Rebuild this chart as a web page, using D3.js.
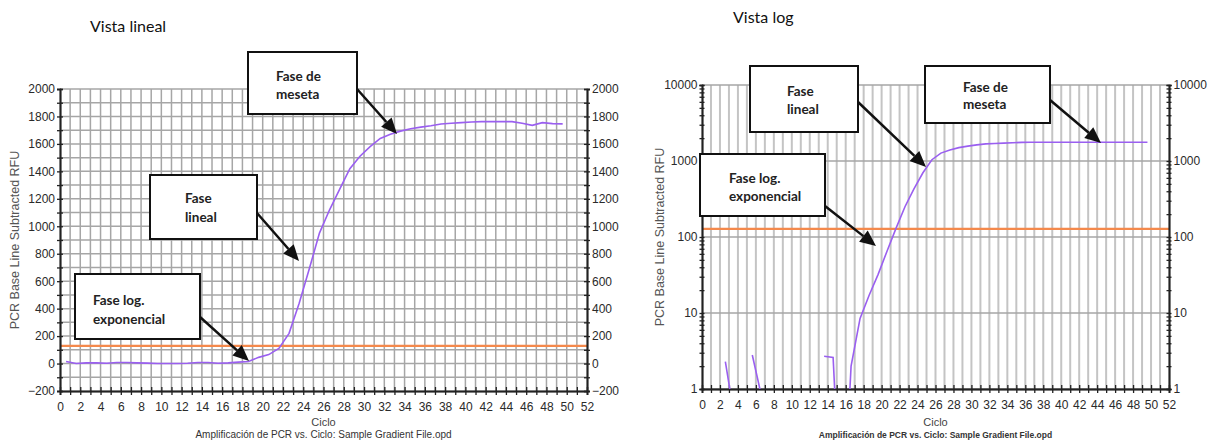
<!DOCTYPE html>
<html>
<head>
<meta charset="utf-8">
<script src="https://cdn.jsdelivr.net/npm/d3@7"></script>
<style>
body { margin: 0; background: #fff; }
text { font-family: "Liberation Sans", Arial, sans-serif; }
</style>
</head>
<body>
<script>
// cycle positions of the readings
var cycles = [0.6, 1.6, 2.6, 3.6, 4.6, 5.6, 6.6, 7.6, 8.6, 9.6,
	10.6, 11.6, 12.6, 13.6, 14.6, 15.6, 16.6, 17.6, 18.6, 19.6,
	20.6, 21.6, 22.6, 23.6, 24.6, 25.6, 26.6, 27.6, 28.6, 29.6,
	30.6, 31.6, 32.6, 33.6, 34.6, 35.6, 36.6, 37.6, 38.6, 39.6,
	40.6, 41.6, 42.6, 43.6, 44.6, 45.6, 46.6, 47.6, 48.6, 49.6];

// RFU as read from the linear view
var linearRFU = [15, 0, 5, 5, 2, 8, 8, 5, 3, 0,
	0, 0, 2, 8, 8, 2, 5, 10, 15, 45,
	65, 110, 220, 440, 690, 950, 1120, 1270, 1420, 1510,
	1580, 1640, 1670, 1693, 1710, 1722, 1732, 1745, 1750, 1755,
	1760, 1762, 1762, 1762, 1762, 1750, 1735, 1755, 1748, 1746];

// RFU as read from the log view (null = not positive, not drawn)
var logRFU = [null, null, 2.3, 0.43, null, 2.8, 0.83, null, null, null,
	null, null, null, 2.7, 2.6, 0.01, 2.0, 8.5, 17, 32,
	65, 130, 250, 430, 700, 1040, 1270, 1400, 1500, 1570,
	1630, 1680, 1700, 1720, 1740, 1760, 1765, 1765, 1765, 1765,
	1765, 1765, 1765, 1765, 1765, 1765, 1765, 1765, 1765, 1765];

var threshold = 128;

var xTicks = [0, 2, 4, 6, 8, 10, 12, 14, 16, 18, 20, 22, 24, 26, 28, 30,
	32, 34, 36, 38, 40, 42, 44, 46, 48, 50, 52];
var linTicks = [-200, 0, 200, 400, 600, 800, 1000, 1200, 1400, 1600, 1800, 2000];
var logTicks = [1, 10, 100, 1000, 10000];

var yLabel = 'PCR Base Line Subtracted RFU';
var xLabel = 'Ciclo';
var subTitle = 'Amplificación de PCR vs. Ciclo: Sample Gradient File.opd';

var width = 1209, height = 441;
var purple = '#9a5ff0', orange = '#f4894c';

var svg = d3.select('body').append('svg')
	.attr('width', width)
	.attr('height', height);

// draws one panel, returns the scales
function panel(o) {
	var g = svg.append('g');
	var x = d3.scaleLinear().domain([0, 52]).range([o.left, o.right]);
	var y = o.log
		? d3.scaleLog().domain([1, 10000]).range([o.bottom, o.top])
		: d3.scaleLinear().domain([-200, 2000]).range([o.bottom, o.top]);

	// grid
	g.selectAll('.vg').data(d3.range(1, 52)).enter().append('line')
		.attr('x1', d => x(d)).attr('x2', d => x(d))
		.attr('y1', o.top).attr('y2', o.bottom)
		.style('stroke', o.log ? '#c4c4c4' : '#a6a6a6')
		.style('stroke-width', o.log ? 2 : 1.5);
	var hg = o.log ? logTicks : d3.range(-100, 2001, 100);
	g.selectAll('.hg').data(hg).enter().append('line')
		.attr('x1', o.left).attr('x2', o.right)
		.attr('y1', d => y(d)).attr('y2', d => y(d))
		.style('stroke', '#a6a6a6')
		.style('stroke-width', 1.5);

	var minor = o.log
		? [2, 3, 4, 5, 6, 7, 8, 9, 20, 30, 40, 50, 60, 70, 80, 90, 200, 300, 400, 500,
			600, 700, 800, 900, 2000, 3000, 4000, 5000, 6000, 7000, 8000, 9000]
		: d3.range(-100, 2000, 200);
	var ticksAll = (o.log ? logTicks : linTicks).concat(minor);
	var tickSize = o.log ? 2.5 : 3;

	function styleAxis(a) {
		a.select('.domain').style('stroke', '#222').style('stroke-width', 1.5);
		a.selectAll('line').style('stroke', '#222').style('stroke-width', 1.3);
		a.selectAll('text').style('font-size', '12px').style('fill', '#2a2a2a');
	}

	// left axis, labels + outer ticks
	svg.append('g').attr('transform', 'translate(' + o.left + ',0)')
		.call(d3.axisLeft(y).tickValues(o.log ? logTicks : linTicks)
			.tickFormat(d3.format('d')).tickSize(tickSize).tickPadding(2))
		.call(styleAxis);
	svg.append('g').attr('transform', 'translate(' + o.left + ',0)')
		.call(d3.axisLeft(y).tickValues(minor).tickFormat('').tickSize(tickSize))
		.call(styleAxis);
	svg.append('g').attr('transform', 'translate(' + o.left + ',0)')
		.call(d3.axisRight(y).tickValues(ticksAll).tickFormat('').tickSize(tickSize))
		.call(styleAxis);

	// right axis
	svg.append('g').attr('transform', 'translate(' + o.right + ',0)')
		.call(d3.axisRight(y).tickValues(o.log ? logTicks : linTicks)
			.tickFormat(d3.format('d')).tickSize(tickSize).tickPadding(2))
		.call(styleAxis);
	svg.append('g').attr('transform', 'translate(' + o.right + ',0)')
		.call(d3.axisRight(y).tickValues(minor).tickFormat('').tickSize(tickSize))
		.call(styleAxis);
	svg.append('g').attr('transform', 'translate(' + o.right + ',0)')
		.call(d3.axisLeft(y).tickValues(ticksAll).tickFormat('').tickSize(tickSize))
		.call(styleAxis);

	// bottom axis
	svg.append('g').attr('transform', 'translate(0,' + o.bottom + ')')
		.call(d3.axisBottom(x).tickValues(xTicks).tickSize(4).tickPadding(7))
		.call(styleAxis);
	svg.append('g').attr('transform', 'translate(0,' + o.bottom + ')')
		.call(d3.axisBottom(x).tickValues(d3.range(1, 52, 2)).tickFormat('').tickSize(4))
		.call(styleAxis);
	svg.append('g').attr('transform', 'translate(0,' + o.bottom + ')')
		.call(d3.axisTop(x).tickValues(d3.range(1, 52)).tickFormat('').tickSize(4))
		.call(styleAxis);

	// threshold
	g.append('line')
		.attr('x1', o.left).attr('x2', o.right)
		.attr('y1', y(threshold)).attr('y2', y(threshold))
		.style('stroke', orange).style('stroke-width', 2.2);

	// curve
	var clipId = 'clip' + (o.log ? 'log' : 'lin');
	svg.append('clipPath').attr('id', clipId).append('rect')
		.attr('x', o.left).attr('y', o.top)
		.attr('width', o.right - o.left).attr('height', o.bottom - o.top);
	var vals = o.log ? logRFU : linearRFU;
	var line = d3.line()
		.defined(function(d, i) { return vals[i] !== null; })
		.x(function(d, i) { return x(cycles[i]); })
		.y(function(d) { return y(d); });
	svg.append('path')
		.attr('clip-path', 'url(#' + clipId + ')')
		.attr('d', line(vals))
		.style('fill', 'none')
		.style('stroke', purple)
		.style('stroke-width', 1.6);

	// texts
	var cx = (o.left + o.right) / 2;
	svg.append('text')
		.attr('transform', 'translate(' + o.ylx + ',' + ((o.top + o.bottom) / 2) + ') rotate(-90)')
		.attr('text-anchor', 'middle')
		.style('font-size', '12.5px').style('fill', '#555')
		.text(yLabel);
	svg.append('text')
		.attr('x', cx).attr('y', 426)
		.attr('text-anchor', 'middle')
		.style('font-size', '11px').style('fill', '#444')
		.text(xLabel);
	svg.append('text')
		.attr('x', cx).attr('y', 438)
		.attr('text-anchor', 'middle')
		.style('font-size', o.log ? '8.5px' : '10px')
		.style('font-weight', o.log ? 'bold' : 'normal')
		.style('fill', '#333')
		.text(subTitle);
	svg.append('text')
		.attr('x', o.titleX).attr('y', o.titleY)
		.style('font-family', 'Lato, sans-serif')
		.style('font-size', '16px').style('fill', '#111')
		.text(o.title);

	return { x: x, y: y };
}

panel({ left: 60, right: 587, top: 89, bottom: 391, log: false, ylx: 19,
	title: 'Vista lineal', titleX: 90, titleY: 32 });
panel({ left: 702, right: 1169, top: 85, bottom: 389, log: true, ylx: 664,
	title: 'Vista log', titleX: 733, titleY: 23 });

// callouts
var notes = [
	{ x: 248, y: 52, w: 109, h: 62, tx: 276, ty: [76, 94], lines: ['Fase de', 'meseta'], a: [357, 89, 397, 134] },
	{ x: 150, y: 175, w: 107, h: 64, tx: 185, ty: [198, 217], lines: ['Fase', 'lineal'], a: [257, 213, 299, 261] },
	{ x: 75, y: 274, w: 125, h: 65, tx: 93, ty: [300, 319], lines: ['Fase log.', 'exponencial'], a: [200, 317, 249, 361] },
	{ x: 750, y: 66, w: 108, h: 66, tx: 787, ty: [91, 109], lines: ['Fase', 'lineal'], a: [858, 102, 926, 167] },
	{ x: 700, y: 154, w: 125, h: 62, tx: 729, ty: [178, 196], lines: ['Fase log.', 'exponencial'], a: [825, 206, 876, 246] },
	{ x: 925, y: 66, w: 125, h: 57, tx: 963, ty: [87, 104], lines: ['Fase de', 'meseta'], a: [1050, 100, 1101, 143] }
];

notes.forEach(function(n) {
	var g = svg.append('g');
	g.append('rect')
		.attr('x', n.x).attr('y', n.y).attr('width', n.w).attr('height', n.h)
		.style('fill', '#fff').style('stroke', '#111').style('stroke-width', 2);
	n.lines.forEach(function(t, i) {
		g.append('text')
			.attr('x', n.tx).attr('y', n.ty[i])
			.attr('dominant-baseline', 'central')
			.style('font-family', 'Lato, sans-serif')
			.style('font-weight', 'bold')
			.style('font-size', '13.5px')
			.style('fill', '#222')
			.text(t);
	});
	// arrow
	var x1 = n.a[0], y1 = n.a[1], x2 = n.a[2], y2 = n.a[3];
	var ang = Math.atan2(y2 - y1, x2 - x1);
	var hl = 16, hw = 7;
	var bx = x2 - hl * Math.cos(ang), by = y2 - hl * Math.sin(ang);
	g.append('line')
		.attr('x1', x1).attr('y1', y1).attr('x2', bx).attr('y2', by)
		.style('stroke', '#111').style('stroke-width', 2.5);
	g.append('polygon')
		.attr('points', [
			[x2, y2],
			[bx + hw * Math.sin(ang), by - hw * Math.cos(ang)],
			[bx - hw * Math.sin(ang), by + hw * Math.cos(ang)]
		].map(p => p.join(',')).join(' '))
		.style('fill', '#111');
});
</script>
</body>
</html>
